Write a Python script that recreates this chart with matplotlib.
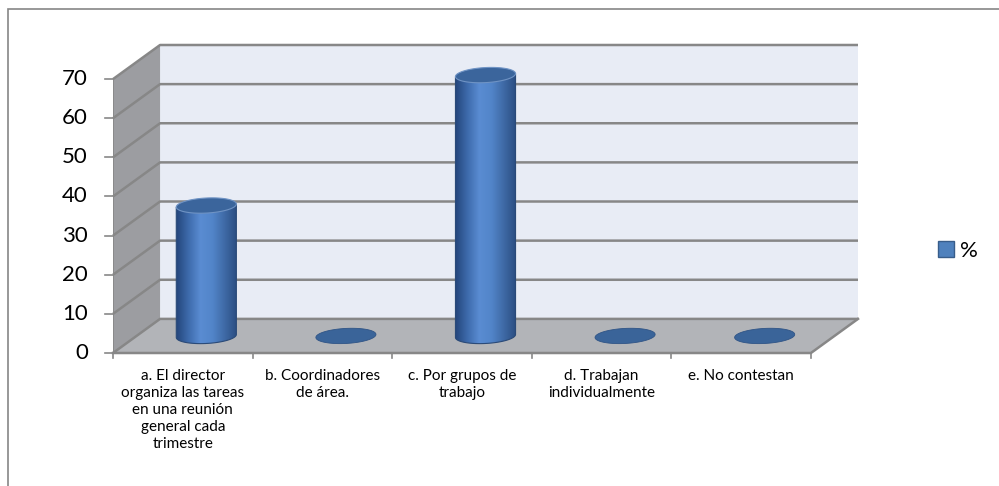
import numpy as np
import matplotlib.pyplot as plt
from matplotlib.patches import Polygon, PathPatch, Patch, Rectangle
from matplotlib.path import Path
from matplotlib.colors import LinearSegmentedColormap

plt.rcParams['font.family'] = ['Lato', 'DejaVu Sans']

# Datos del gráfico
categorias = [
    "a. El director\norganiza las tareas\nen una reunión\ngeneral cada\ntrimestre",
    "b. Coordinadores\nde área.",
    "c. Por grupos de\ntrabajo",
    "d. Trabajan\nindividualmente",
    "e. No contestan",
]
porcentajes = [33.33, 0, 66.67, 0, 0]
ticks_y = [0, 10, 20, 30, 40, 50, 60, 70]
serie = "%"

# Geometria del pseudo 3D (unidades de categoria / de valor)
W, H = 999, 486
px_x = 139.4          # pixeles por categoria
px_y = 3.9            # pixeles por unidad de valor
dx = 47 / px_x        # desplazamiento de profundidad
dy = 34 / px_y
ymax = 70
n = len(categorias)

fig = plt.figure(figsize=(W / 100, H / 100), dpi=100)
ax = fig.add_axes([113 / W, 1 - 353 / H, (858 - 113) / W, (353 - 45) / H])
ax.set_xlim(0, n + dx)
ax.set_ylim(0, ymax + dy)
ax.axis('off')

gris = '#878787'

# paredes y suelo
ax.add_patch(Polygon([(dx, dy), (n + dx, dy), (n + dx, ymax + dy), (dx, ymax + dy)],
                     closed=True, fc='#e8ecf5', ec='none', zorder=1))
ax.add_patch(Polygon([(0, 0), (dx, dy), (dx, ymax + dy), (0, ymax)],
                     closed=True, fc='#9c9da1', ec='none', zorder=1))
ax.add_patch(Polygon([(0, 0), (n, 0), (n + dx, dy), (dx, dy)],
                     closed=True, fc='#b2b4b8', ec='none', zorder=1))

# lineas de division
for v in ticks_y:
    ax.plot([0, dx, n + dx], [v, v + dy, v + dy], color=gris, lw=1.8,
            zorder=2, clip_on=False, solid_capstyle='butt')
    ax.plot([-8 / px_x, 0], [v, v], color=gris, lw=1.2, clip_on=False, zorder=2)
ax.plot([0, 0], [0, ymax], color=gris, lw=1.2, zorder=2)
ax.plot([0, n, n + dx], [0, 0, dy], color=gris, lw=1.8, zorder=2, clip_on=False)
for i in range(n + 1):
    ax.plot([i, i], [0, -5 / px_y], color=gris, lw=1.2, clip_on=False, zorder=2)

# etiquetas del eje de valores
for v in ticks_y:
    ax.text(-25 / px_x, v, str(v), ha='right', va='center', fontsize=16,
            color='black', clip_on=False)

# etiquetas de categorias
for i, c in enumerate(categorias):
    ax.text(i + 0.5, -16 / px_y, c, ha='center', va='top', fontsize=11,
            linespacing=1.28, color='black', clip_on=False)

# cilindros
r = 30 / px_x
h = 7.5 / px_y
incl = 0.05 * px_x / px_y
t = np.linspace(0, 2 * np.pi, 120)
cmap = LinearSegmentedColormap.from_list(
    'cil', ['#24457a', '#3d6aab', '#5a8cd2', '#5285c9', '#3f6aa6', '#2b4e82'])
grad = np.linspace(0, 1, 200).reshape(1, -1)


def elipse(cx, cy):
    xs = cx + r * np.cos(t)
    ys = cy + h * np.sin(t) + incl * (xs - cx)
    return np.column_stack([xs, ys])


for i, v in enumerate(porcentajes):
    cx = i + 0.5 + dx / 2
    cy = dy / 2
    if v > 0:
        tt = np.linspace(np.pi, 2 * np.pi, 60)
        xb = cx + r * np.cos(tt)
        yb = cy + h * np.sin(tt) + incl * (xb - cx)
        cuerpo = np.vstack([[cx - r, cy + v - incl * r],
                            np.column_stack([xb, yb]),
                            [cx + r, cy + v + incl * r]])
        clip = PathPatch(Path(np.vstack([cuerpo, cuerpo[:1]]), closed=True),
                         fc='none', ec='#2a4a78', lw=0.8, zorder=4)
        ax.add_patch(clip)
        im = ax.imshow(grad, cmap=cmap, aspect='auto', zorder=3,
                       extent=[cx - r, cx + r, cy - 2 * h, cy + v + 2 * h])
        im.set_clip_path(clip)
        ax.add_patch(Polygon(elipse(cx, cy + v), closed=True, fc='#3b659c',
                             ec='#6f93c4', lw=0.8, zorder=5))
    else:
        ax.add_patch(Polygon(elipse(cx, cy), closed=True, fc='#3a6499',
                             ec='#2f5486', lw=0.6, zorder=5))

ax.set_xlim(0, n + dx)
ax.set_ylim(0, ymax + dy)

# leyenda
fig.legend(handles=[Patch(fc='#4f81bd', ec='#385d8a', lw=1)], labels=[serie],
           loc='center left', bbox_to_anchor=(938 / W, 1 - 251 / H),
           frameon=False, fontsize=16, handlelength=0.7, handleheight=0.7,
           handletextpad=0.3, borderpad=0, borderaxespad=0)

# borde del area del grafico
fig.add_artist(Rectangle((8 / W, -0.1), 1.2, 1.1 - 9 / H, transform=fig.transFigure,
                         fill=False, ec='#868686', lw=1.2))

fig.savefig('out.png', dpi=100)
